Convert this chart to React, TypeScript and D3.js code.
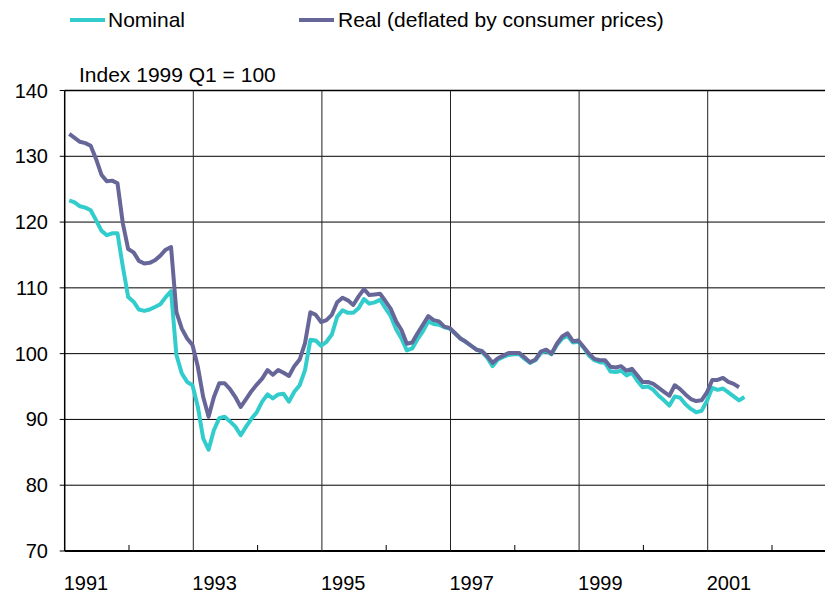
import React from "react";
import * as d3 from "d3";

// monthly index values, Jan 1991 onwards (1999 Q1 = 100)
const nominal = [
  123.3, 123.0, 122.4, 122.2, 121.8, 120.3, 118.7, 118.0, 118.3, 118.3, 113.2, 108.6,
  107.9, 106.7, 106.5, 106.7, 107.1, 107.5, 108.6, 109.5, 99.8, 97.0, 95.7, 95.2,
  91.9, 87.1, 85.4, 88.4, 90.2, 90.4, 89.7, 88.9, 87.6, 88.9, 90.1, 91.1,
  92.7, 93.8, 93.2, 93.8, 93.9, 92.7, 94.2, 95.2, 97.5, 102.1, 102.0, 101.2,
  101.8, 102.9, 105.6, 106.6, 106.2, 106.2, 106.9, 108.3, 107.6, 107.8, 108.2, 106.9,
  105.7, 103.7, 102.3, 100.5, 100.8, 102.2, 103.4, 104.9, 104.5, 104.4, 104.0, 103.8,
  103.1, 102.3, 101.8, 101.2, 100.6, 100.3, 99.4, 98.1, 99.1, 99.5, 99.8, 99.9,
  99.9, 99.2, 98.6, 99.0, 100.1, 100.4, 99.9, 101.3, 102.3, 102.7, 101.7, 101.8,
  100.9, 99.7, 99.0, 98.7, 98.6, 97.3, 97.2, 97.4, 96.7, 97.1, 95.9, 94.9,
  95.0, 94.5, 93.6, 92.9, 92.1, 93.5, 93.3, 92.3, 91.6, 91.1, 91.3, 92.8,
  94.8, 94.5, 94.7, 94.1, 93.5, 92.9, 93.4,
];

const real = [
  133.4, 132.8, 132.2, 132.0, 131.6, 129.6, 127.2, 126.2, 126.3, 125.9, 119.8, 115.9,
  115.4, 114.1, 113.7, 113.8, 114.2, 114.9, 115.8, 116.2, 106.3, 103.8, 102.3, 101.3,
  98.0, 93.4, 90.4, 93.4, 95.5, 95.5, 94.6, 93.4, 91.9, 93.1, 94.3, 95.3,
  96.2, 97.5, 96.8, 97.5, 97.1, 96.6, 98.1, 99.1, 101.6, 106.3, 105.9, 104.8,
  105.1, 105.9, 107.8, 108.5, 108.1, 107.4, 108.7, 109.8, 108.9, 109.0, 109.1, 108.0,
  106.8, 104.9, 103.6, 101.5, 101.7, 103.1, 104.4, 105.7, 105.1, 104.9, 104.1, 103.9,
  103.1, 102.3, 101.8, 101.2, 100.6, 100.4, 99.6, 98.6, 99.3, 99.7, 100.1, 100.1,
  100.1, 99.4, 98.7, 99.1, 100.3, 100.6, 100.0, 101.5, 102.6, 103.1, 101.9, 102.0,
  101.0, 100.0, 99.2, 99.0, 99.0, 98.0, 97.9, 98.1, 97.4, 97.7, 96.7, 95.7,
  95.7, 95.4, 94.8, 94.2, 93.6, 95.2, 94.6, 93.8, 93.1, 92.8, 92.9, 94.1,
  96.0, 96.0, 96.3, 95.7, 95.4, 94.9,
];

const startYear = 1991;
const yearTicks = [1992, 1993, 1994, 1995, 1996, 1997, 1998, 1999, 2000, 2001, 2002];
const yearLabels = [1991, 1993, 1995, 1997, 1999, 2001];
const yTicks = [70, 80, 90, 100, 110, 120, 130, 140];

const seriesInfo = [
  { name: "Nominal", values: nominal, color: "#33CCCC" },
  { name: "Real (deflated by consumer prices)", values: real, color: "#666699" },
];

const W = 825;
const H = 594;
const font = "Arial, 'Liberation Sans', sans-serif";

export default function App() {
  const x = d3.scaleLinear().domain([1991, 2003]).range([64.7, 836.3]);
  const y = d3.scaleLinear().domain([70, 140]).range([551, 90.5]);

  const monthPos = (i: number) => startYear + (i + 0.85) / 12;

  const line = d3
    .line<number>()
    .x((_, i) => x(monthPos(i)))
    .y((d) => y(d));

  const left = x(1991);
  const right = W;

  return (
    <svg
      width={W}
      height={H}
      style={{ position: "absolute", left: 0, top: 0, background: "#fff" }}
      fontFamily={font}
    >
      {/* legend */}
      <line x1={70} x2={105} y1={20} y2={20} stroke={seriesInfo[0].color} strokeWidth={4} />
      <text x={108} y={27} fontSize={21}>{seriesInfo[0].name}</text>
      <line x1={299} x2={334} y1={20} y2={20} stroke={seriesInfo[1].color} strokeWidth={4} />
      <text x={338} y={27} fontSize={21}>{seriesInfo[1].name}</text>

      <text x={79} y={82} fontSize={21}>Index 1999 Q1 = 100</text>

      {/* horizontal grid */}
      {yTicks.map((t) => (
        <g key={t}>
          <line x1={left} x2={right} y1={y(t)} y2={y(t)} stroke="#000" strokeWidth={t === 70 ? 2 : t === 140 ? 1.5 : 1} />
          <line x1={left - 5} x2={left} y1={y(t)} y2={y(t)} stroke="#000" strokeWidth={1} />
          <text x={48} y={y(t)} dy="0.35em" textAnchor="end" fontSize={20}>{t}</text>
        </g>
      ))}

      {/* vertical grid + ticks */}
      {yearTicks.map((yr) =>
        yr % 2 === 1 ? (
          <line key={yr} x1={x(yr)} x2={x(yr)} y1={y(140)} y2={y(70)} stroke="#222" strokeWidth={1} />
        ) : (
          <line key={yr} x1={x(yr)} x2={x(yr)} y1={y(70) - 6} y2={y(70)} stroke="#000" strokeWidth={1} />
        )
      )}
      <line x1={left} x2={left} y1={y(140)} y2={y(70)} stroke="#000" strokeWidth={1.5} />

      {yearLabels.map((yr) => (
        <text key={yr} x={x(yr) - 1} y={590} fontSize={20}>{yr}</text>
      ))}

      {/* series */}
      {seriesInfo.map((s) => (
        <path key={s.name} d={line(s.values) ?? ""} fill="none" stroke={s.color} strokeWidth={4} strokeLinejoin="round" />
      ))}
    </svg>
  );
}
